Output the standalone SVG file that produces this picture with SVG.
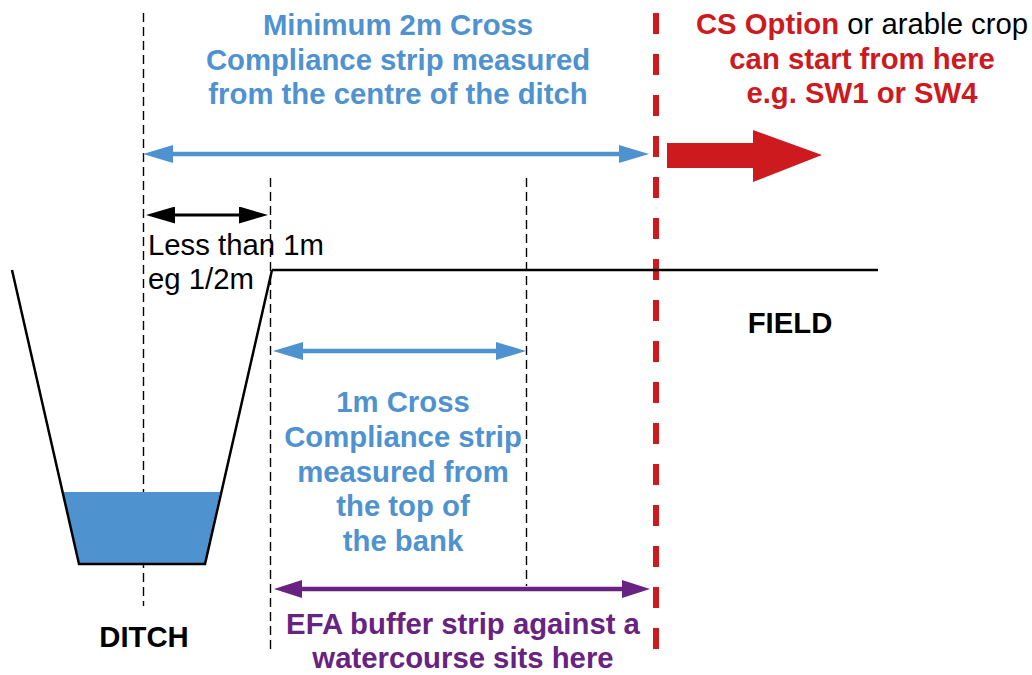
<svg xmlns="http://www.w3.org/2000/svg" width="1032" height="675" viewBox="0 0 1032 675">
<defs>
<style>
.t{font-family:"Liberation Sans",Arial,sans-serif;font-size:29.3px}
.b{font-weight:bold}
.blue{fill:#4f92d0}
.red{fill:#cc1a1f}
.purple{fill:#682282}
.blk{fill:#000}
.guide{stroke:#000;stroke-width:1.4;stroke-dasharray:9,5;fill:none}
</style>
<marker id="hb" markerUnits="userSpaceOnUse" markerWidth="30" markerHeight="18" refX="20" refY="9" orient="auto-start-reverse" viewBox="0 0 30 18"><path d="M0,0 L30,9 L0,18 z" fill="#4f92d0"/></marker>
<marker id="hk" markerUnits="userSpaceOnUse" markerWidth="29" markerHeight="17" refX="20" refY="8.5" orient="auto-start-reverse" viewBox="0 0 29 17"><path d="M0,0 L29,8.5 L0,17 z" fill="#000"/></marker>
<marker id="hp" markerUnits="userSpaceOnUse" markerWidth="28" markerHeight="18" refX="20" refY="9" orient="auto-start-reverse" viewBox="0 0 28 18"><path d="M0,0 L28,9 L0,18 z" fill="#682282"/></marker>
</defs>
<rect width="1032" height="675" fill="#fff"/>

<g id="guides">
<line class="guide" x1="143.5" y1="13" x2="143.5" y2="606"/>
<line class="guide" x1="270.5" y1="178" x2="270.5" y2="653"/>
<line class="guide" x1="526.5" y1="178" x2="526.5" y2="586"/>
<line x1="656" y1="13" x2="656" y2="651" stroke="#cc1a1f" stroke-width="6" stroke-dasharray="21,20"/>
</g>

<g id="ditch">
<polygon points="63,492 220,492 205,564 80,564" fill="#4f92d0"/>
<polyline points="12,270 79,564 205,564 272,270" fill="none" stroke="#000" stroke-width="2.5"/>
<text class="t b blk" x="144" y="647" text-anchor="middle">DITCH</text>
</g>

<g id="field">
<line x1="272" y1="270" x2="878" y2="270" stroke="#000" stroke-width="2.5"/>
<text class="t b blk" x="790" y="333" text-anchor="middle">FIELD</text>
</g>

<g id="connectors">
<line x1="153" y1="154" x2="639" y2="154" stroke="#4f92d0" stroke-width="4.5" marker-start="url(#hb)" marker-end="url(#hb)"/>
<line x1="155" y1="215" x2="259" y2="215" stroke="#000" stroke-width="3" marker-start="url(#hk)" marker-end="url(#hk)"/>
<line x1="283" y1="351" x2="516" y2="351" stroke="#4f92d0" stroke-width="4.5" marker-start="url(#hb)" marker-end="url(#hb)"/>
<line x1="282" y1="589" x2="642" y2="589" stroke="#682282" stroke-width="4.5" marker-start="url(#hp)" marker-end="url(#hp)"/>
<polygon points="667,143 753,143 753,130 822,155 753,182 753,168 667,168" fill="#cc1a1f"/>
</g>

<g id="label-min2m">
<text class="t b blue" text-anchor="middle"><tspan x="398" y="35">Minimum 2m Cross</tspan><tspan x="398" y="70">Compliance strip measured</tspan><tspan x="398" y="104">from the centre of the ditch</tspan></text>
</g>

<g id="label-cs">
<text class="t b red" text-anchor="middle"><tspan x="862" y="34">CS Option <tspan class="blk" font-weight="normal">or arable crop</tspan></tspan><tspan x="862" y="69">can start from here</tspan><tspan x="862" y="103">e.g. SW1 or SW4</tspan></text>
</g>

<g id="label-less1m">
<text class="t blk"><tspan x="148" y="255">Less than 1m</tspan><tspan x="148" y="289">eg 1/2m</tspan></text>
</g>

<g id="label-1m">
<text class="t b blue" text-anchor="middle"><tspan x="403" y="412">1m Cross</tspan><tspan x="403" y="447">Compliance strip</tspan><tspan x="403" y="482">measured from</tspan><tspan x="403" y="516">the top of</tspan><tspan x="403" y="551">the bank</tspan></text>
</g>

<g id="label-efa">
<text class="t b purple" text-anchor="middle"><tspan x="463" y="634">EFA buffer strip against a</tspan><tspan x="463" y="668">watercourse sits here</tspan></text>
</g>
</svg>
